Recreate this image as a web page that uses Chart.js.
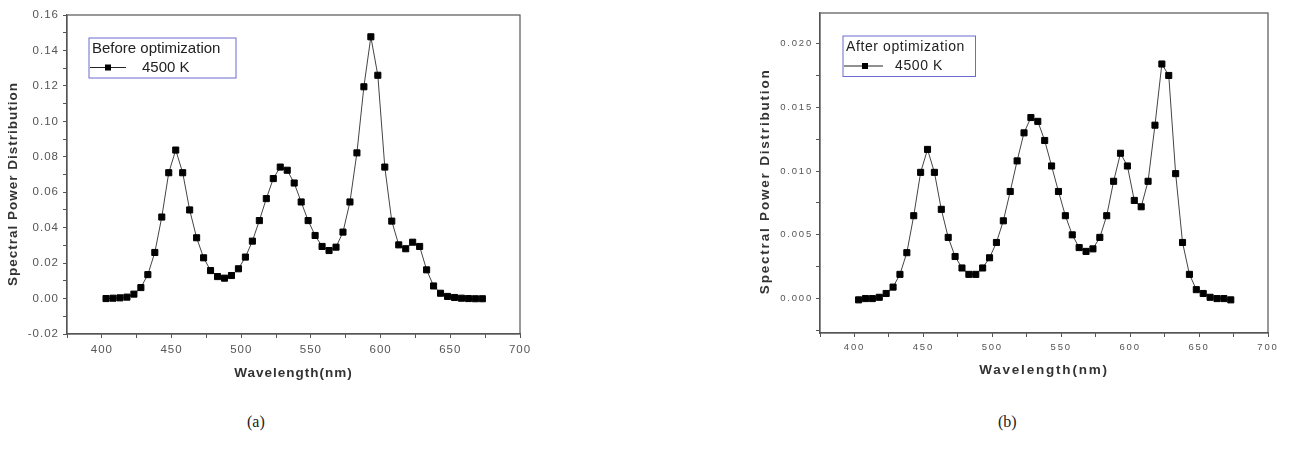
<!DOCTYPE html>
<html>
<head>
<meta charset="utf-8">
<script src="https://cdn.jsdelivr.net/npm/chart.js@4"></script>
<style>
  body { margin: 0; background: #fff; width: 1292px; height: 453px; position: relative; overflow: hidden; }
  canvas { position: absolute; top: 0; }
  .cap { position: absolute; font-family: "Liberation Serif", "Times New Roman", serif; font-size: 16px; line-height: 18px; color: #222; }
</style>
</head>
<body>
<canvas id="chartA" width="560" height="385" style="left:0px"></canvas>
<canvas id="chartB" width="540" height="383" style="left:750px"></canvas>
<div class="cap" style="left:247px;top:413px">(a)</div>
<div class="cap" style="left:998px;top:413px">(b)</div>
<script>
// wavelength (nm) of each measured point
const wavelengths = [403, 408, 413, 418, 423, 428, 433, 438, 443, 448,
  453, 458, 463, 468, 473, 478, 483, 488, 493, 498,
  503, 508, 513, 518, 523, 528, 533, 538, 543, 548,
  553, 558, 563, 568, 573, 578, 583, 588, 593, 598,
  603, 608, 613, 618, 623, 628, 633, 638, 643, 648,
  653, 658, 663, 668, 673];

// (a) before optimization, 4500 K
const spdBefore = [0.0000, 0.0002, 0.0004, 0.0008, 0.0025, 0.0062, 0.0135, 0.0260, 0.0460, 0.0710,
  0.0838, 0.0710, 0.0500, 0.0343, 0.0230, 0.0158, 0.0124, 0.0115, 0.0130, 0.0168,
  0.0234, 0.0324, 0.0440, 0.0564, 0.0677, 0.0742, 0.0724, 0.0652, 0.0545, 0.0440,
  0.0356, 0.0294, 0.0271, 0.0290, 0.0375, 0.0545, 0.0822, 0.1195, 0.1477, 0.1260,
  0.0742, 0.0437, 0.0303, 0.0281, 0.0318, 0.0294, 0.0162, 0.0071, 0.0030, 0.0012,
  0.0006, 0.0002, 0.0000, -0.0001, -0.0001];

// (b) after optimization, 4500 K
const spdAfter = [-0.0001, 0.0000, 0.0000, 0.0001, 0.0004, 0.0009, 0.0019, 0.0036, 0.0065, 0.0099,
  0.0117, 0.0099, 0.0070, 0.0048, 0.0033, 0.0024, 0.0019, 0.0019, 0.0024, 0.0032,
  0.0044, 0.0061, 0.0084, 0.0108, 0.0130, 0.0142, 0.0139, 0.0124, 0.0104, 0.0084,
  0.0065, 0.0050, 0.0040, 0.0037, 0.0039, 0.0048, 0.0065, 0.0092, 0.0114, 0.0104,
  0.0077, 0.0072, 0.0092, 0.0136, 0.0184, 0.0175, 0.0098, 0.0044, 0.0019, 0.0007,
  0.0004, 0.0001, 0.0000, 0.0000, -0.0001];

const seriesLabel = "4500 K";
const legendTitles = ["Before optimization", "After optimization"];

// frame around the plot + the boxed legend, plus letter spacing for the axis text
const framePlugin = {
  id: "frameBox",
  beforeDraw(chart, args, o) {
    chart.ctx.letterSpacing = o.spacing;
  },
  afterDraw(chart, args, o) {
    const { ctx, chartArea: a } = chart;
    ctx.save();
    ctx.strokeStyle = "#555";
    ctx.lineWidth = 1.2;
    ctx.strokeRect(a.left, a.top, a.right - a.left, a.bottom - a.top);

    const x = a.left + o.dx, y = a.top + o.dy;
    ctx.strokeStyle = "#6b6bd0";
    ctx.lineWidth = 1;
    ctx.strokeRect(x, y, o.w, o.h);
    ctx.font = o.font;
    ctx.letterSpacing = o.legendSpacing;
    ctx.textBaseline = "middle";
    ctx.fillStyle = "#222";
    ctx.fillText(o.title, x + 3, y + o.titleY);
    const ly = y + o.lineY;
    ctx.strokeStyle = "#222";
    ctx.beginPath();
    ctx.moveTo(x + o.l0, ly);
    ctx.lineTo(x + o.l1, ly);
    ctx.stroke();
    ctx.fillStyle = "#000";
    ctx.fillRect(x + o.sq - 3, ly - 3, 6, 6);
    ctx.fillStyle = "#222";
    ctx.fillText(chart.data.datasets[0].label, x + o.lx, ly);
    ctx.restore();
  }
};

function makeChart(id, values, cfg) {
  return new Chart(document.getElementById(id), {
    type: "line",
    data: {
      datasets: [{
        label: seriesLabel,
        data: wavelengths.map((w, i) => ({ x: w, y: values[i] })),
        borderColor: "#444",
        borderWidth: 1,
        tension: 0,
        pointStyle: "rect",
        pointRadius: 4.3,
        pointBorderWidth: 1,
        pointBackgroundColor: "#000",
        pointBorderColor: "#000"
      }]
    },
    options: {
      responsive: false,
      animation: false,
      devicePixelRatio: 1,
      layout: { padding: { left: 0, top: cfg.padTop, right: cfg.padRight, bottom: 0 } },
      plugins: {
        legend: { display: false },
        tooltip: { enabled: false },
        frameBox: cfg.box
      },
      scales: {
        x: {
          type: "linear",
          min: 375,
          max: 700,
          afterFit: s => { s.height = cfg.xHeight; },
          grid: { drawOnChartArea: false, drawTicks: true, tickLength: 4, color: "#555" },
          border: { color: "#555", width: 1.2 },
          ticks: {
            stepSize: 25,
            autoSkip: false,
            maxRotation: 0,
            padding: 5,
            color: "#555",
            font: { family: "Liberation Sans", size: cfg.tickSize },
            callback: v => (v % 50 === 0 ? String(v) : "")
          },
          title: {
            display: true,
            text: "Wavelength(nm)",
            color: "#333",
            padding: { top: 0, bottom: cfg.xTitlePad },
            font: { family: "Liberation Sans", size: 13.5, weight: "bold" }
          }
        },
        y: {
          min: cfg.yMin,
          max: cfg.yMax,
          afterFit: s => { s.width = cfg.yWidth; },
          grid: { drawOnChartArea: false, drawTicks: true, tickLength: 4, color: "#555" },
          border: { color: "#555", width: 1.2 },
          ticks: {
            stepSize: cfg.yStep,
            includeBounds: false,
            autoSkip: false,
            padding: cfg.yTickPad,
            color: "#555",
            font: { family: "Liberation Sans", size: cfg.tickSize },
            callback: cfg.yLabel
          },
          title: {
            display: true,
            text: "Spectral Power Distribution" + cfg.yTitleTail,
            color: "#333",
            padding: { top: cfg.yTitlePad, bottom: 0 },
            font: { family: "Liberation Sans", size: 13.5, weight: "bold" }
          }
        }
      }
    },
    plugins: [framePlugin]
  });
}

makeChart("chartA", spdBefore, {
  padTop: 15, padRight: 40, xHeight: 51, yWidth: 67,
  yMin: -0.02, yMax: 0.16, yStep: 0.01,
  yLabel: v => { const k = Math.round(v * 100); return k % 2 === 0 ? (k / 100).toFixed(2) : ""; },
  tickSize: 11.5, yTickPad: 4, xTitlePad: 4, yTitlePad: 5, yTitleTail: "    ",
  box: {
    spacing: "1px", legendSpacing: "0px", font: "15px 'Liberation Sans'",
    title: legendTitles[0],
    dx: 22, dy: 23, w: 147, h: 40, titleY: 10.5, lineY: 29.5,
    l0: 1, l1: 37, sq: 19, lx: 53
  }
});

makeChart("chartB", spdAfter, {
  padTop: 13, padRight: 22, xHeight: 50, yWidth: 70,
  yMin: -0.0027, yMax: 0.0224, yStep: 0.0025,
  yLabel: v => { const k = Math.round(v / 0.0025); return k % 2 === 0 ? (k * 0.0025).toFixed(3) : ""; },
  tickSize: 9.5, yTickPad: 3, xTitlePad: 5, yTitlePad: 7, yTitleTail: "   ",
  box: {
    spacing: "1.8px", legendSpacing: "0.6px", font: "14px 'Liberation Sans'",
    title: legendTitles[1],
    dx: 23, dy: 23, w: 132.5, h: 40.5, titleY: 10.7, lineY: 30,
    l0: 1, l1: 40, sq: 22, lx: 52
  }
});
</script>
</body>
</html>
